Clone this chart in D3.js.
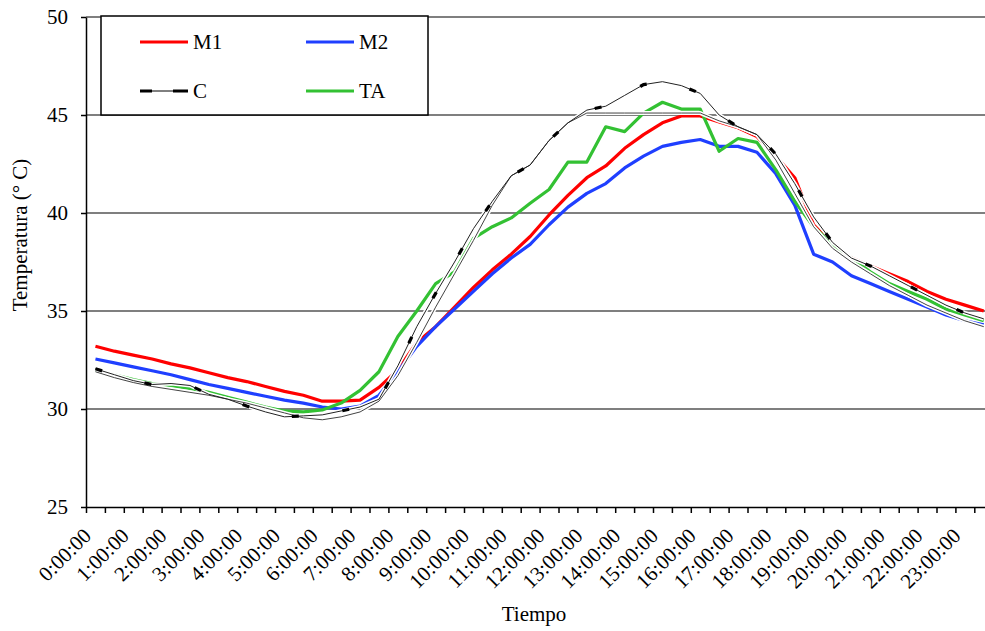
<!DOCTYPE html>
<html>
<head>
<meta charset="utf-8">
<script src="https://cdn.jsdelivr.net/npm/d3@7"></script>
<style>
  body { margin: 0; background: white; }
  text { font-family: "Liberation Serif", "Times New Roman", serif; fill: black; }
</style>
</head>
<body>
<svg id="chart" width="985" height="631"></svg>
<script>
// categorias cada media hora
let horas = d3.range(48).map((i) => Math.floor(i / 2) + ":" + (i % 2 ? "30" : "00") + ":00");
let yTicks = [25, 30, 35, 40, 45, 50];

let M1 = [33.2, 32.95, 32.75, 32.55, 32.3, 32.1, 31.85, 31.6, 31.4, 31.15, 30.9, 30.7, 30.4, 30.4, 30.45, 31.1,
  32.0, 33.4, 34.2, 35.2, 36.2, 37.1, 37.9, 38.8, 39.9, 40.9, 41.8, 42.4, 43.3, 44.0, 44.6, 44.95,
  44.95, 44.65, 44.35, 43.9, 42.9, 41.8, 39.4, 38.4, 37.7, 37.3, 36.9, 36.5, 36.0, 35.6, 35.3, 35.0];
let M2 = [32.55, 32.35, 32.15, 31.95, 31.75, 31.5, 31.25, 31.05, 30.85, 30.65, 30.45, 30.3, 30.1, 30.0, 30.15, 30.7,
  31.9, 33.2, 34.2, 35.1, 36.0, 36.9, 37.7, 38.4, 39.4, 40.3, 41.0, 41.5, 42.3, 42.9, 43.4, 43.6,
  43.75, 43.4, 43.4, 43.1, 42.0, 40.4, 37.9, 37.5, 36.8, 36.4, 36.0, 35.6, 35.2, 34.8, 34.5, 34.3];
let TA = [32.0, 31.75, 31.5, 31.3, 31.2, 31.05, 30.85, 30.6, 30.35, 30.1, 29.9, 29.85, 29.95, 30.3, 30.95, 31.9,
  33.7, 35.0, 36.4, 37.0, 38.7, 39.3, 39.75, 40.5, 41.2, 42.6, 42.6, 44.4, 44.15, 45.1, 45.65, 45.3,
  45.3, 43.15, 43.8, 43.6, 42.2, 40.6, 39.3, 38.4, 37.7, 37.0, 36.4, 36.0, 35.6, 35.1, 34.8, 34.5];
let C = [32.05, 31.75, 31.45, 31.25, 31.3, 31.2, 30.75, 30.5, 30.15, 29.85, 29.6, 29.65, 29.7, 29.9, 30.1, 30.5,
  32.2, 34.2, 35.9, 37.5, 39.2, 40.6, 41.9, 42.45, 43.7, 44.6, 45.25, 45.45, 46.0, 46.55, 46.7, 46.5,
  46.1, 45.0, 44.4, 44.0, 43.0, 41.5, 39.8, 38.5, 37.7, 37.3, 36.8, 36.3, 35.8, 35.3, 34.9, 34.6];
// segunda traza fina (sin leyenda)
let C2 = [31.9, 31.6, 31.35, 31.15, 31.0, 30.85, 30.7, 30.5, 30.3, 30.05, 29.8, 29.55, 29.45, 29.6, 29.85, 30.4,
  31.7, 33.4, 35.2, 36.9, 38.6, 40.4, 41.9, 42.45, 43.7, 44.6, 45.1, 45.1, 45.1, 45.1, 45.1, 45.1,
  45.1, 44.7, 44.4, 44.0, 42.7, 41.0, 39.3, 38.2, 37.5, 36.9, 36.3, 35.8, 35.3, 34.9, 34.5, 34.2];

const svg = d3.select("#chart");
const mLeft = 86, mTop = 17, mBottom = 507, step = 18.9;

const x = d3.scaleBand().domain(horas).range([mLeft, mLeft + step * horas.length]);
const xTick = d3.scaleLinear().domain([0, horas.length]).range([mLeft, mLeft + step * horas.length]);
const y = d3.scaleLinear().domain([25, 50]).range([mBottom, mTop]);
const cx = (i) => x(horas[i]) + x.bandwidth() / 2;

// rejilla
svg.append("g")
  .selectAll("line")
  .data(yTicks.filter((d) => d > 25))
  .join("line")
  .attr("x1", mLeft)
  .attr("x2", xTick(horas.length))
  .attr("y1", (d) => y(d))
  .attr("y2", (d) => y(d))
  .attr("stroke", "black")
  .attr("stroke-width", 1.2);

const line = d3.line()
  .x((d, i) => cx(i))
  .y((d) => y(d));

function DrawSeries(data, color, width) {
  svg.append("path")
    .datum(data)
    .attr("d", line)
    .attr("fill", "none")
    .attr("stroke", color)
    .attr("stroke-width", width)
    .attr("stroke-linejoin", "round");
}

DrawSeries(M1, "#ff0000", 3.2);
DrawSeries(M2, "#1f3fff", 3.2);
DrawSeries(TA, "#33c133", 3.2);

// trazas finas con halo blanco
[C2, C].forEach((d) => DrawSeries(d, "white", 4));
DrawSeries(C2, "#444", 1);
DrawSeries(C, "#222", 1);
svg.append("path")
  .datum(C)
  .attr("d", line)
  .attr("fill", "none")
  .attr("stroke", "black")
  .attr("stroke-width", 3.2)
  .attr("stroke-dasharray", "7,44");

// ejes
svg.append("g")
  .attr("transform", `translate(0,${mBottom})`)
  .call(d3.axisBottom(xTick).tickValues(d3.range(horas.length + 1)).tickFormat("").tickSize(6).tickSizeOuter(0))
  .call((g) => g.selectAll("line, path").attr("stroke", "black").attr("stroke-width", 1.5));

svg.append("g")
  .attr("transform", `translate(${mLeft},0)`)
  .call(d3.axisLeft(y).tickValues(yTicks).tickSize(5).tickPadding(13).tickSizeOuter(0))
  .call((g) => g.selectAll("line, path").attr("stroke", "black").attr("stroke-width", 1.5))
  .call((g) => g.selectAll("text").attr("font-size", "21px").attr("fill", "black"));

svg.append("g")
  .selectAll("text")
  .data(horas.filter((d, i) => i % 2 === 0))
  .join("text")
  .attr("transform", (d, i) => `translate(${cx(i * 2) - 3},${mBottom + 30}) rotate(-45)`)
  .attr("text-anchor", "end")
  .attr("font-size", "21px")
  .text((d) => d);

svg.append("text")
  .attr("transform", `translate(27,235) rotate(-90)`)
  .attr("text-anchor", "middle")
  .attr("font-size", "21px")
  .text("Temperatura (° C)");

svg.append("text")
  .attr("x", 534)
  .attr("y", 621)
  .attr("text-anchor", "middle")
  .attr("font-size", "21px")
  .text("Tiempo");

// leyenda
let leyenda = [
  { name: "M1", color: "#ff0000", lx: 140, ly: 42 },
  { name: "M2", color: "#1f3fff", lx: 306, ly: 42 },
  { name: "C", color: "black", lx: 140, ly: 91 },
  { name: "TA", color: "#33c133", lx: 306, ly: 91 }
];
const legend = svg.append("g");
legend.append("rect")
  .attr("x", 101)
  .attr("y", 16)
  .attr("width", 327)
  .attr("height", 99)
  .attr("fill", "white")
  .attr("stroke", "black")
  .attr("stroke-width", 1.5);

leyenda.forEach((d) => {
  if (d.name === "C") {
    legend.append("line")
      .attr("x1", d.lx).attr("x2", d.lx + 48)
      .attr("y1", d.ly).attr("y2", d.ly)
      .attr("stroke", "black").attr("stroke-width", 1);
    legend.append("line")
      .attr("x1", d.lx).attr("x2", d.lx + 48)
      .attr("y1", d.ly).attr("y2", d.ly)
      .attr("stroke", "black").attr("stroke-width", 3.2)
      .attr("stroke-dasharray", "12,21,15");
  } else {
    legend.append("line")
      .attr("x1", d.lx).attr("x2", d.lx + 48)
      .attr("y1", d.ly).attr("y2", d.ly)
      .attr("stroke", d.color).attr("stroke-width", 3.2);
  }
  legend.append("text")
    .attr("x", d.lx + 53)
    .attr("y", d.ly + 7)
    .attr("font-size", "21px")
    .text(d.name);
});
</script>
</body>
</html>
